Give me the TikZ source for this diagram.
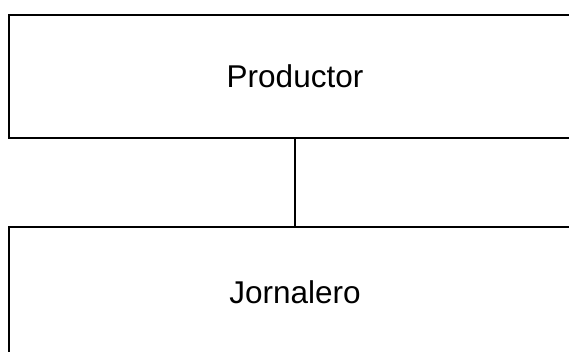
\documentclass[tikz,border=0pt]{standalone}
\usepackage{fontspec}
\setmainfont{Liberation Sans}
\begin{document}
\begin{tikzpicture}[x=1pt,y=-1pt,
  boxnode/.style={draw=black, line width=2.2pt, rectangle, inner sep=0pt,
    minimum width=572pt, font=\fontsize{31.5}{38}\selectfont},
  link/.style={draw=black, line width=2.2pt}]
\useasboundingbox (0,0) rectangle (569,351);
\node[boxnode, minimum height=123pt] (P) at (295,76.5) {Productor};
\node[boxnode, minimum height=131pt] (J) at (295,292.5) {Jornalero};
\draw[link] (P.south) -- (J.north);
\end{tikzpicture}
\end{document}
